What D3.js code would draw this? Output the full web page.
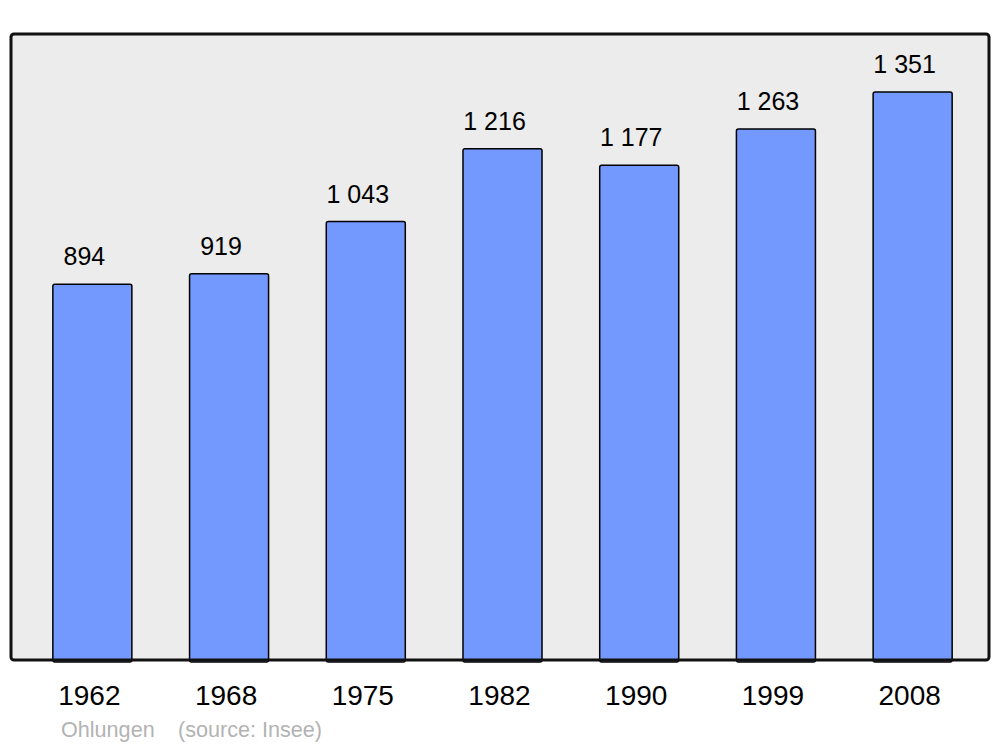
<!DOCTYPE html>
<html>
<head>
<meta charset="utf-8">
<script src="https://cdn.jsdelivr.net/npm/d3@7"></script>
<style>
  body { margin: 0; background: #fff; }
  svg { display: block; font-family: "Liberation Sans", Arial, sans-serif; }
</style>
</head>
<body>
<svg id="chart" width="1000" height="747"></svg>
<script>
// données population
const years = ["1962", "1968", "1975", "1982", "1990", "1999", "2008"];
const population = [894, 919, 1043, 1216, 1177, 1263, 1351];
const commune = "Ohlungen";
const source = "(source: Insee)";

const width = 1000, height = 747;
const frame = { left: 11, right: 989, top: 34, bottom: 660 };

const svg = d3.select("#chart");

// cadre gris
svg.append("rect")
    .attr("x", frame.left).attr("y", frame.top)
    .attr("width", frame.right - frame.left).attr("height", frame.bottom - frame.top)
    .attr("rx", 3).attr("ry", 3)
    .attr("fill", "#ececec");

const x = d3.scaleBand().domain(years).range([24, 981]).paddingInner(0.422).paddingOuter(0.211);
const y = d3.scaleLinear().domain([0, 1489]).range([frame.bottom, frame.top]);

const fmt = v => d3.format(",")(v).replace(/,/g, " ");

// barres
svg.append("g").selectAll("rect")
    .data(population)
    .join("rect")
    .attr("x", (d, i) => x(years[i]))
    .attr("y", d => y(d))
    .attr("width", x.bandwidth())
    .attr("height", d => y(0) - y(d) + 2)
    .attr("rx", 2).attr("ry", 2)
    .attr("fill", "#7399ff")
    .attr("stroke", "#000")
    .attr("stroke-width", 1.5);

// contour du cadre (par-dessus les barres)
svg.append("rect")
    .attr("x", frame.left).attr("y", frame.top)
    .attr("width", frame.right - frame.left).attr("height", frame.bottom - frame.top)
    .attr("rx", 3).attr("ry", 3)
    .attr("fill", "none")
    .attr("stroke", "#111")
    .attr("stroke-width", 3);

// valeurs au-dessus des barres
svg.append("g").selectAll("text")
    .data(population)
    .join("text")
    .attr("x", (d, i) => x(years[i]) + x.bandwidth() / 2)
    .attr("dx", -8)
    .attr("y", d => y(d) - 19)
    .attr("text-anchor", "middle")
    .attr("font-size", 25)
    .attr("fill", "#000")
    .text(d => fmt(d));

// axe des années
const xAxis = svg.append("g")
    .attr("transform", `translate(0,${frame.bottom})`)
    .call(d3.axisBottom(x).tickSize(0).tickPadding(0));
xAxis.select(".domain").remove();
xAxis.selectAll("text")
    .attr("dy", null)
    .attr("y", 45)
    .attr("dx", -3)
    .attr("font-size", 28)
    .attr("font-family", "Liberation Sans, Arial, sans-serif")
    .attr("fill", "#000");

// légende source
svg.append("text")
    .attr("x", 61).attr("y", 737)
    .attr("font-size", 21.6)
    .attr("fill", "#b3b3b3")
    .text(commune);
svg.append("text")
    .attr("x", 178).attr("y", 737)
    .attr("font-size", 21.6)
    .attr("fill", "#b3b3b3")
    .text(source);
</script>
</body>
</html>
